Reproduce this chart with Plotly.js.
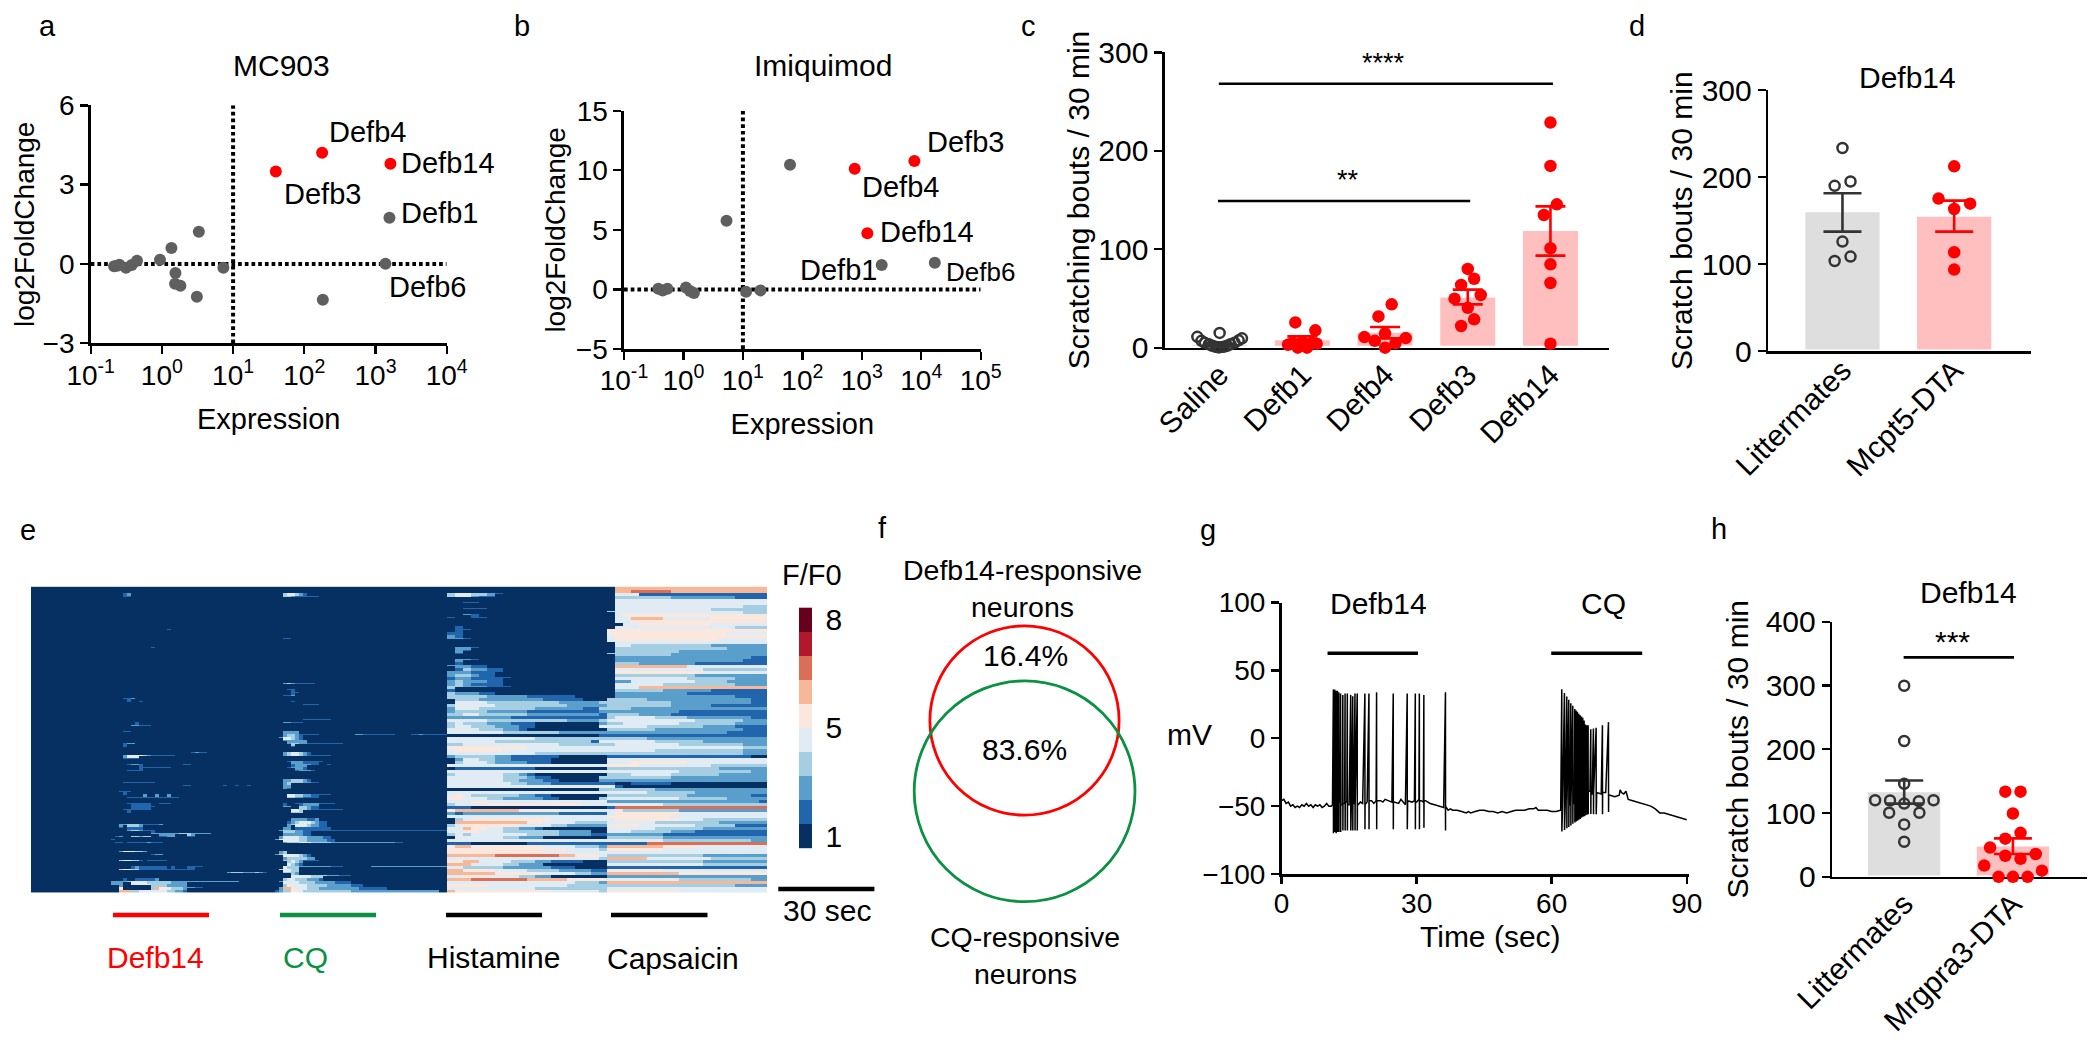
<!DOCTYPE html>
<html>
<head>
<meta charset="utf-8">
<script src="https://cdn.plot.ly/plotly-3.0.1.min.js"></script>
<style>html,body{margin:0;padding:0;background:#fff}#chart{width:2100px;height:1044px}</style>
</head>
<body>
<div id="chart"></div>
<script>
const W = 2100, H = 1044;
const FONT = '"Liberation Sans", Arial, sans-serif';
const RED = "#ff0000", GREY = "#5f5f5f", DARK = "#333333", GREEN = "#0a9142";
const PINK_BAR = "#ffbfbf", GREY_BAR = "#dedede";

// a: MC903
const mc903GreyX = [1570, 1380, 182, 3.3, 1.36, 0.94, 7.3, 1.55, 1.53, 1.82, 3.1, 0.213, 0.253, 0.313, 0.377, 0.447, 0.235];
const mc903GreyY = [1.75, 0.01, -1.35, 1.22, 0.6, 0.16, -0.14, -0.34, -0.75, -0.82, -1.24, -0.09, -0.03, -0.14, -0.04, 0.12, -0.07];
const mc903RedX = [39.8, 178, 1620];
const mc903RedY = [3.5, 4.21, 3.79];

// b: Imiquimod
const imiqGreyX = [62, 5.3, 2160, 16900, 11.3, 19.7, 0.378, 0.447, 0.537, 1.1, 1.29, 1.5];
const imiqGreyY = [10.47, 5.77, 2.05, 2.24, -0.19, -0.08, 0.06, -0.1, 0.06, 0.17, -0.13, -0.3];
const imiqRedX = [7670, 760, 1240];
const imiqRedY = [10.78, 10.13, 4.71];

const logTicks = [0.1, 1, 10, 100, 1000, 10000, 100000];
const logLabels = ["10<sup>-1</sup>", "10<sup>0</sup>", "10<sup>1</sup>", "10<sup>2</sup>", "10<sup>3</sup>", "10<sup>4</sup>", "10<sup>5</sup>"];

// c: scratching bouts
const cCategories = ["Saline", "Defb1", "Defb4", "Defb3", "Defb14"];
const cMeans = [3, 7.5, 15.2, 51, 118.5];
const cErrUp = [1, 4, 5.8, 8, 25];
const cErrDown = [1, 4, 5.7, 7, 25];
const salineOffsets = [0, -0.27, 0.27, -0.22, 0.23, -0.18, 0.18, -0.13, 0.13, -0.09, 0.09, -0.05, 0.05, 0, -0.02];
const salineValues = [15, 11, 9.5, 7, 7.5, 5, 5, 3.5, 3.5, 2, 2, 1, 1, 0.5, 0.5];
const defb1Offsets = [-0.085, 0.157, -0.173, 0.173, -0.056, 0.056, 0, -0.117, 0.113];
const defb1Values = [25.7, 17.6, 3, 4, 0, 0, 5.8, 5, 5];
const defb4Offsets = [0.08, -0.08, -0.25, 0.25, 0, -0.125, 0.125, 0];
const defb4Values = [44, 31.8, 10.8, 9.8, 14.6, 7, 4.4, 0];
const defb3Offsets = [0, 0.077, -0.08, 0.157, -0.16, 0, 0.077, -0.08];
const defb3Values = [80, 70, 63.7, 53.5, 49.8, 40.6, 28.8, 22];
const defb14Offsets = [0, 0, 0.077, -0.08, 0, 0, 0, 0];
const defb14Values = [228.6, 184.6, 145.6, 134.8, 101, 84.7, 65.7, 4];

// d: Mcpt5-DTA
const dCategories = ["Littermates", "Mcpt5-DTA"];
const dMeans = [159.6, 154.6];
const dErrUp = [21.8, 18.4];
const dErrDown = [22.2, 17.2];
const dLitterOffsets = [0, 0.072, -0.07, 0, 0.072, -0.07];
const dLitterValues = [233.4, 195, 190, 126, 108.7, 103.7];
const dMcptOffsets = [0, -0.14, 0.143, 0, 0, 0];
const dMcptValues = [212.4, 175.3, 169.5, 163.4, 113.7, 93.8];

// h: Mrgpra3-DTA
const hCategories = ["Littermates", "Mrgpra3-DTA"];
const hMeans = [132.4, 47.5];
const hErrUp = [18.6, 12.8];
const hErrDown = [17.6, 11.7];
const hLitterOffsets = [0, 0, 0, -0.267, -0.13, 0, 0.135, 0.27, -0.138, 0.14, 0, 0];
const hLitterValues = [299.6, 213, 145.8, 120, 119.6, 114.8, 118.6, 120, 100.4, 100.4, 82.2, 55];
const hMrgOffsets = [-0.07, 0.07, 0, 0.07, -0.07, -0.21, -0.07, 0.07, 0.21, -0.264, 0.267, -0.132, 0, 0.135];
const hMrgValues = [133.5, 133.5, 99.3, 68.9, 59.8, 45.9, 33, 28.3, 35.8, 17.6, 9.6, 0, 0, 0];

// e: calcium imaging heatmap, each row.
// Colour levels for F/F0, bottom to top of the colour key
const levelColors = ["#053061", "#2166ac", "#5a9fcb", "#a6cee3", "#e1ebf3", "#fae8df", "#f7b799", "#db6e56", "#b2182b", "#67001f"];
const ROWS = 102, COLS = 184;
// Defb14 window, 1 digit = 1 column, starts at column 20
const defb14Rows = {
  2: "00012", 3: "00011", 14: "000000000000001", 20: "00000000001", 37: "000112", 38: "00001001",
  45: "0000001", 46: "0000022111", 48: "00011", 52: "000122", 53: "0001",
  55: "000000000000000000001211", 56: "0002444432111111", 57: "0001111",
  59: "00001221000000000011", 60: "000000011111111", 61: "00001111", 65: "00011111111",
  66: "00000000000000000011000000001001001", 68: "00111", 69: "0001000020020020",
  70: "00001111111111111", 72: "000011111100111", 73: "00000111111", 74: "0001111111", 75: "00001",
  79: "0022333211112", 80: "00101111", 81: "00002332111", 82: "0000000000222222233322222",
  83: "012003323300112200011", 84: "1", 85: "0110111112111", 88: "0024443320", 89: "0000000000122",
  91: "00344331011111", 93: "00000121111111010001111", 94: "006443311111111111111",
  95: "000000000000000000000000000002333222321", 97: "000100111112",
  98: "22223444433333322222222222222222", 99: "2220044444333322222",
  100: "0050000000365543332221100", 101: "0066633444444433221"
};
// CQ window, 1 digit = 1 column, starts at column 60
const cqRows = {
  2: "000344321", 3: "000332111111", 17: "00011", 32: "00023211111", 34: "000011", 35: "0000011", 36: "000112",
  38: "000001", 39: "000000001111", 44: "000000001111111", 45: "00022111", 48: "0002222",
  49: "00023321111100000000022111111110000112111111", 50: "00244321", 51: "000222222", 52: "000023322111111111",
  53: "000001", 55: "0002344321", 56: "000234432111111", 58: "0000122211111", 59: "000001222211001",
  60: "000012221", 61: "00000012221", 64: "0002233321", 65: "000233332211", 66: "00022", 67: "00021",
  69: "000044332211111", 70: "000033221111", 72: "0001001122221111", 73: "000220033211",
  74: "000004433211111111", 75: "00000333", 77: "000002222112", 78: "00001234443211", 79: "00002344432211",
  80: "000220111111111", 81: "00233322111111111111111111111111111111111111", 82: "0002222211",
  83: "002444433222211", 84: "0254444332222211", 85: "000233344433333222222222222222211",
  88: "0023", 89: "0264544321", 90: "00023333322", 91: "000334321111", 92: "00004321",
  93: "000433322222222111000000022222222222222222222", 94: "0064433", 95: "0003332",
  96: "00000444443333222111", 97: "0003443332221", 98: "00244443333222221111",
  99: "00035444433333222222111", 100: "00266544433322222222221111111",
  101: "012335543333333333332222222222222222222222"
};
// Histamine window, 1 digit = 2 columns, starts at column 104
const histamineRows = {
  2: "3443321", 3: "344211", 5: "0011", 7: "00111", 9: "0021", 10: "10011", 13: "01", 14: "011", 15: "11", 16: "21", 17: "221",
  20: "0221", 21: "021", 22: "01", 24: "0221", 25: "01", 26: "22211", 27: "0132211", 28: "2221111", 29: "233211",
  30: "12211111", 31: "2322211", 32: "2321111", 33: "33222111", 34: "1", 35: "322211", 36: "3333322222111111", 37: "33332222222211111",
  38: "044443333333332222222", 39: "344444333333333222222", 40: "244433333332222221112", 41: "233332222211111111111",
  42: "334433333322222222211", 43: "222222221111111111110", 44: "444443333333333222222", 45: "343332221110000000000",
  46: "344333222110000000000", 47: "444433322100000000000", 48: "444444433333332222222", 49: "000000000000000000000",
  50: "444444444443333333333", 51: "444444333333333333111", 52: "334444444444443333330", 53: "555555555544444444444",
  54: "455555544444444444444", 55: "444444444443333333333", 56: "233333221111110000000", 57: "024433221111100000000",
  58: "034443222211100000000", 59: "444444444444444444440", 60: "011111111110000000000", 61: "444444444444444444444",
  62: "344444433210000000000", 63: "444444433321100000000", 64: "444444433222110000000", 65: "444444443322211111111",
  66: "444444444444444444444", 67: "000000000000000000000", 68: "444444444444444444440", 69: "454333333221100000000",
  70: "554443322222110000000", 71: "444554444444444444444", 72: "344445555555555554444", 73: "111000000000000000000",
  74: "566666666555554444444", 75: "212222222222221111110", 76: "444444444444444444444", 77: "034555555555544444441",
  78: "066666666655444433333", 79: "345555555444433222222", 80: "446554433221000000000", 81: "445544433333332222000",
  82: "343444444433332222111", 83: "044444433222000000000", 84: "444444444444444444444", 85: "111000000011111111110",
  86: "566555555555444433322", 87: "555555555555555444433", 88: "555555555555444444444", 89: "666666777777776655544",
  90: "444444444444444444433", 91: "556644443332211110000", 92: "666444433222000000000", 93: "443333322222211100000",
  94: "665555444433332222111", 95: "666666555555444433222", 96: "445554444332200000000", 97: "666777777766666555554",
  98: "444444444444444433322", 99: "555554444444444333333", 100: "444444444443333333333", 101: "655555555555544444433"
};
// Capsaicin window, 1 digit = 2 columns, starts at column 140
const capsaicinRows = [
  "0006666666666666666666", "0006677777666666666666", "0004441111111111111111", "0003333333222222221111",
  "0004444444444444444444", "0004444444444444444444", "0004444444444444444333", "0004444444444443333333",
  "0034444444444444444333", "0004555555555555555555", "0004466664444445555555", "0004455555555555555555",
  "0000445555555554444444", "0004444444444444443333", "0055555555555555555555", "0055555555555555544444",
  "0045555555555555555555", "0045555555555555444444", "0044444444444444444444", "0004433333333332222222",
  "0003333333333333322222", "0003333333322222222222", "0033333333222222222222", "0002222222222222222211",
  "0002222222222222222111", "0003332222222111111111", "0006666666664444444444", "0004444444444433333333",
  "0005555555555544444444", "0003333333333222222222", "0004444444443333332222", "0002244444444333322222",
  "0004444443333333332222", "0004446666666666666666", "0003333332222221111111", "0002222222221111111111",
  "0002222222222222221111", "0033333222222222222211", "0333333333222222222211", "0033333333222221111111",
  "0333322222222222222222", "0222222222211111111111", "0033332222111111111111", "0034444433332222222211",
  "0344444444444333333222", "0233444444433333332222", "0444444333333322221111", "0033333322222222222111",
  "0022222222222222211111", "0111111111111111111111", "0333333222222222222222", "0444444433333322222222",
  "0334444444433333333222", "0444444444444444444333", "0044444433333333333222", "0033333333333333333222",
  "0011111111111111111100", "0044444444444444444444", "0044455555554444444444", "0055554444444443333333",
  "0033333333333333222222", "0044444444433333333322", "0033344444333333222222", "0333333333222222222222",
  "0222222222222222222222", "0000011111000000000000", "0001000000000000000000", "0333333322222222222222",
  "0044444333333222222222", "0033333333332222222211", "0344444444433333322222", "0022222222222222222221",
  "0044444443333333333333", "0017777777777777777777", "0044333333322222222222", "0045555555544444444444",
  "0055555555444444444444", "0045555555544433333333", "0044444433333333222222", "0055554444444333331111",
  "0044444433333322222222", "0044433333222111111111", "0022222221111111111111", "0033333332222222222222",
  "0044444443333333333322", "0011111777777777777777", "0066666665555444444444", "0055555554444444444444",
  "0044444444444444444444", "0033333333333322222222", "0066666444444443333333", "0033333333333322222222",
  "0044444444444433333333", "0011111111111111111111", "0055555554444444444444", "0066666666655555555555",
  "0022222222222222222222", "0044444444433333333322", "0066666666666666666666", "0033333333333333332222",
  "0044444444444444444444", "0055555555544444444444"
];
const keyLevels = [0, 1, 2, 3, 4, 5, 6, 7, 8, 9];
const keyTickVals = [0, 4.5, 9];
const keyTickText = ["1", "5", "8"];

// g: membrane potential trace, baseline points then the spikes on top
const traceTime = [0, 0.5, 1, 1.5, 2, 2.5, 3, 3.5, 4, 4.5, 5, 5.5, 6, 6.5, 7, 7.5, 8, 8.5, 9, 9.5, 10, 10.5, 11, 11.3,
  12, 12.5, 13, 13.5, 14, 14.5, 15, 15.5, 16, 17, 17.5, 18, 18.5, 19, 20, 20.5, 21, 22, 22.5, 23, 24, 24.5, 25, 26, 26.5, 27, 27.5, 28, 29, 29.5, 30, 30.5, 31, 31.5, 32, 33, 34, 35, 36, 36.4,
  37, 37.5, 38, 39, 40, 41, 41.5, 42, 43, 44, 45, 46, 47, 48, 49, 50, 51, 52, 53, 54, 55, 56, 56.5, 57, 58, 59, 60, 61, 62,
  62.4, 63, 64, 65, 66, 67, 68, 68.5, 69, 70, 71, 72, 73, 74, 75, 75.2, 75.5, 76, 76.5, 77, 78, 79, 80, 81, 82, 83, 84, 85, 86, 87, 88, 89, 90];
const traceMv = [-46, -45, -48, -47, -50, -49, -51, -50, -51, -49, -50, -48, -50, -49, -51, -49, -50, -49, -51, -50, -48, -50, -50, -49,
  -48, -49, -47, -49, -48, -47, -49, -48, -48, -49, -47, -48, -49, -47, -46, -48, -46, -46, -47, -45, -46, -47, -47, -48, -45, -47, -49, -46, -47, -46, -47, -45, -46, -47, -46, -48, -49, -50, -51, -50,
  -53, -52, -53, -53, -54, -55, -54, -55, -54, -53, -53, -54, -54, -55, -54, -55, -54, -53, -53, -53, -52, -52, -51, -53, -53, -53, -54, -54, -53,
  -51, -50, -49, -48, -46, -44, -41, -39, -41, -40, -41, -40, -42, -43, -42, -38, -40, -41, -39, -45, -46, -47, -48, -49, -50, -52, -55, -55, -56, -57, -58, -59, -60];
const spikeTime = [11.5, 11.8, 12.1, 12.4, 12.7, 13.1, 13.6, 14.1, 14.6, 15.35, 15.8, 16.3, 16.8, 18.5, 19.4, 21.1, 24.8, 27.9, 29.7, 30.6, 31.6, 36.4,
  62.24, 62.83, 63.35, 63.79, 64.24, 64.68, 65.13, 65.42, 65.72, 66.02, 66.31, 66.61, 66.9, 67.2, 67.5, 67.79, 68.09, 68.68, 69.27, 69.87, 71.27, 72.61];
const spikePeak = [36, 36, 35, 35, 34, 33, 32, 33, 33, 32, 31, 33, 33, 33, 33, 34, 33, 33, 33, 33, 32, 34,
  36.2, 33.3, 30.8, 28.4, 25.9, 23.9, 21.5, 20.5, 19.5, 18, 17, 16.1, 15.1, 13.1, 10.2, 9.7, 9.7, 6.7, 7.2, 7.7, 9.7, 11.9];
const spikeTrough = [-70, -69, -70, -69, -69, -69, -68, -68, -68, -68, -68, -68, -68, -67, -67, -67, -67, -67, -67, -67, -66, -68,
  -68.7, -67.5, -66.2, -65.3, -64.3, -63, -62.1, -61.3, -60.8, -60.1, -59.4, -58.6, -57.9, -57.4, -56.9, -56.4, -55.9, -55.7, -55.9, -55.9, -55.9, -54.4];

// pixel position in the page -> paper fraction
const px = (x) => x / W;
const py = (y) => 1 - y / H;
const domX = (l, r) => [px(l), px(r)];
const domY = (t, b) => [py(b), py(t)];

function decodeHeatmap() {
  const z = [];
  for (let r = 0; r < ROWS; r++) z.push(new Array(COLS).fill(0));
  const paint = (r, text, start, step) => {
    if (!text) return;
    for (let k = 0; k < text.length; k++) {
      const level = +text[k];
      if (level === 0) continue;
      for (let s = 0; s < step; s++) {
        const c = start + k * step + s;
        if (c < COLS) z[r][c] = level;
      }
    }
  };
  for (let r = 0; r < ROWS; r++) {
    paint(r, defb14Rows[r], 20, 1);
    paint(r, cqRows[r], 60, 1);
    paint(r, histamineRows[r], 104, 2);
    paint(r, capsaicinRows[r], 140, 2);
  }
  // two sub-rows per row: lone streaks in the sparse part stay thin, like the original
  const fine = [];
  for (let r = 0; r < ROWS; r++) {
    fine.push(z[r]);
    const next = z[r + 1] || z[r];
    fine.push(z[r].map((v, c) => {
      const sparse = c < 104 || (r < 38 && c < 146);
      return sparse && next[c] === 0 ? 0 : v;
    }));
  }
  return fine;
}

function mergeTrace() {
  const x = [], y = [];
  let s = 0;
  for (let i = 0; i < traceTime.length; i++) {
    while (s < spikeTime.length && spikeTime[s] <= traceTime[i]) {
      const base = traceMv[i];
      x.push(spikeTime[s], spikeTime[s] + 0.02, spikeTime[s] + 0.04);
      y.push(spikePeak[s], spikeTrough[s], base);
      s++;
    }
    x.push(traceTime[i]);
    y.push(traceMv[i]);
  }
  return { x, y };
}

const discreteScale = [];
levelColors.forEach((c, i) => {
  discreteScale.push([i / 10, c], [(i + 1) / 10, c]);
});

const traces = [];

function dots(xa, ya, xs, ys, color) {
  traces.push({
    type: "scatter", mode: "markers", xaxis: xa, yaxis: ya, x: xs, y: ys, cliponaxis: false,
    marker: { size: 12, color: color },
  });
}
function swarm(xa, ya, center, offsets, values, hollow) {
  traces.push({
    type: "scatter", mode: "markers", xaxis: xa, yaxis: ya,
    x: offsets.map((o) => center + o), y: values, cliponaxis: false,
    marker: hollow
      ? { size: 10, color: "rgba(0,0,0,0)", line: { color: DARK, width: 2.5 } }
      : { size: 12.5, color: RED },
  });
}
function barSet(xa, ya, means, colors) {
  const gap = 2;
  traces.push({
    type: "bar", xaxis: xa, yaxis: ya, x: means.map((m, i) => i), y: means.map((m) => m - gap), base: gap,
    width: 0.665, marker: { color: colors, line: { width: 0 } },
  });
}
function errBar(xa, ya, center, mean, up, down, color, capWidth) {
  traces.push({
    type: "scatter", mode: "markers", xaxis: xa, yaxis: ya, x: [center], y: [mean], cliponaxis: false,
    marker: { size: 1, color: color, opacity: 0 },
    error_y: { type: "data", symmetric: false, array: [up], arrayminus: [down], color: color, thickness: 2.6, width: capWidth },
  });
}
function line(xa, ya, xs, ys, color, width, dash) {
  traces.push({
    type: "scatter", mode: "lines", xaxis: xa, yaxis: ya, x: xs, y: ys, cliponaxis: false,
    line: { color: color, width: width, dash: dash || "solid" },
  });
}

// a
line("x", "y", [0.1, 10000], [0, 0], "#000", 4, "3.7px,3px");
line("x", "y", [10, 10], [-3, 6], "#000", 4, "3.7px,3px");
dots("x", "y", mc903GreyX, mc903GreyY, GREY);
dots("x", "y", mc903RedX, mc903RedY, RED);

// b
line("x2", "y2", [0.1, 100000], [0, 0], "#000", 4, "3.7px,3px");
line("x2", "y2", [10, 10], [-5, 15], "#000", 4, "3.7px,3px");
dots("x2", "y2", imiqGreyX, imiqGreyY, GREY);
dots("x2", "y2", imiqRedX, imiqRedY, RED);

// c
barSet("x3", "y3", cMeans, [GREY_BAR, PINK_BAR, PINK_BAR, PINK_BAR, PINK_BAR]);
swarm("x3", "y3", 0, salineOffsets, salineValues, true);
swarm("x3", "y3", 1, defb1Offsets, defb1Values);
swarm("x3", "y3", 2, defb4Offsets, defb4Values);
swarm("x3", "y3", 3, defb3Offsets, defb3Values);
swarm("x3", "y3", 4, defb14Offsets, defb14Values);
cMeans.forEach((m, i) => errBar("x3", "y3", i, m, cErrUp[i], cErrDown[i], i === 0 ? DARK : RED, 15));
line("x3", "y3", [-0.01, 4.03], [268, 268], "#000", 2.6);
line("x3", "y3", [-0.02, 3.03], [149, 149], "#000", 2.6);

// d
barSet("x4", "y4", dMeans, [GREY_BAR, PINK_BAR]);
swarm("x4", "y4", 0, dLitterOffsets, dLitterValues, true);
swarm("x4", "y4", 1, dMcptOffsets, dMcptValues);
errBar("x4", "y4", 0, dMeans[0], dErrUp[0], dErrDown[0], DARK, 19);
errBar("x4", "y4", 1, dMeans[1], dErrUp[1], dErrDown[1], RED, 19);

// e
traces.push({
  type: "heatmap", xaxis: "x5", yaxis: "y5", z: decodeHeatmap(), colorscale: discreteScale,
  zmin: -0.5, zmax: 9.5, showscale: false, zsmooth: false, hoverinfo: "skip",
});
traces.push({
  type: "heatmap", xaxis: "x6", yaxis: "y6", z: keyLevels.map((l) => [l]), y: keyLevels, colorscale: discreteScale,
  zmin: -0.5, zmax: 9.5, showscale: false, zsmooth: false, hoverinfo: "skip",
});

// g
const merged = mergeTrace();
line("x7", "y7", merged.x, merged.y, "#000", 1.5);
line("x7", "y7", [10.2, 30.3], [62.7, 62.7], "#000", 3.6);
line("x7", "y7", [59.9, 80.1], [62.7, 62.7], "#000", 3.6);

// h
barSet("x8", "y8", hMeans, [GREY_BAR, PINK_BAR]);
swarm("x8", "y8", 0, hLitterOffsets, hLitterValues, true);
swarm("x8", "y8", 1, hMrgOffsets, hMrgValues);
errBar("x8", "y8", 0, hMeans[0], hErrUp[0], hErrDown[0], DARK, 19);
errBar("x8", "y8", 1, hMeans[1], hErrUp[1], hErrDown[1], RED, 19);
line("x8", "y8", [-0.005, 1.01], [344, 344], "#000", 2.6);

function axisBase(size) {
  return {
    showgrid: false, zeroline: false, showline: true, linecolor: "#000", linewidth: 2.6,
    ticks: "outside", ticklen: 8, tickwidth: 2.4, tickcolor: "#000",
    tickfont: { family: FONT, size: size, color: "#000" }, fixedrange: true, layer: "below traces",
  };
}
function logAxis(l, r, yId, maxExp, titleText) {
  return Object.assign(axisBase(28), {
    domain: domX(l, r), anchor: yId, type: "log", range: [-1, maxExp], ticklabelstandoff: -3,
    tickmode: "array", tickvals: logTicks.slice(0, maxExp + 2), ticktext: logLabels.slice(0, maxExp + 2),
    title: { text: titleText, font: { family: FONT, size: 29, color: "#000" }, standoff: 19 },
  });
}
function valueAxis(t, b, xId, range, dtick, size, titleText, standoff) {
  return Object.assign(axisBase(size), {
    domain: domY(t, b), anchor: xId, range: range, dtick: dtick, tick0: range[0],
    title: { text: titleText, font: { family: FONT, size: titleText === "log2FoldChange" ? 28 : 30, color: "#000" }, standoff: standoff },
  });
}
function catAxis(l, r, yId, range, tickvals, ticktext, labelShift) {
  return Object.assign(axisBase(30), {
    domain: domX(l, r), anchor: yId, range: range, tickmode: "array", tickvals: tickvals, ticktext: ticktext,
    tickangle: -45, ticks: "", ticklabelstandoff: labelShift,
  });
}

const hidden = { visible: false, fixedrange: true };

const layout = {
  width: W, height: H, margin: { l: 0, r: 0, t: 0, b: 0 }, showlegend: false,
  paper_bgcolor: "#fff", plot_bgcolor: "rgba(0,0,0,0)", font: { family: FONT, color: "#000", size: 28 },
  barmode: "overlay",
  xaxis: logAxis(90.7, 446.7, "y", 4, "Expression"),
  yaxis: valueAxis(105.3, 343.3, "x", [-3, 6], 3, 28, "log2FoldChange", 0),
  xaxis2: logAxis(624, 980.7, "y2", 5, "Expression"),
  yaxis2: valueAxis(110.7, 349, "x2", [-5, 15], 5, 28, "log2FoldChange", 2),
  xaxis3: catAxis(1165, 1608.6, "y3", [-0.661, 4.703], [0, 1, 2, 3, 4], cCategories, -5),
  yaxis3: valueAxis(52.3, 347.7, "x3", [0, 300], 100, 30, "Scratching bouts / 30 min", 0),
  xaxis4: catAxis(1768.3, 2030.7, "y4", [-0.664, 1.685], [0, 1], dCategories, -13),
  yaxis4: valueAxis(90, 351.3, "x4", [0, 300], 100, 30, "Scratch bouts / 30 min", 0),
  xaxis5: Object.assign({ domain: domX(31, 767), anchor: "y5", range: [-0.5, COLS - 0.5] }, hidden),
  yaxis5: Object.assign({ domain: domY(586.6, 892.8), anchor: "x5", range: [2 * ROWS - 0.5, -0.5] }, hidden),
  xaxis6: Object.assign({ domain: domX(799, 812.4), anchor: "y6", range: [-0.5, 0.5] }, hidden),
  yaxis6: {
    domain: domY(607.4, 848.5), anchor: "x6", side: "right", range: [-0.5, 9.5], showgrid: false, zeroline: false,
    tickmode: "array", tickvals: keyTickVals, ticktext: keyTickText, ticks: "", ticklabelstandoff: 12,
    tickfont: { family: FONT, size: 30, color: "#000" }, fixedrange: true,
  },
  xaxis7: Object.assign(axisBase(28), {
    domain: domX(1281.6, 1689), anchor: "y7", range: [0, 90.5], tickmode: "array", tickvals: [0, 30, 60, 90], ticklen: 7,
    ticklabelstandoff: -4,
  }),
  yaxis7: Object.assign(axisBase(28), { domain: domY(602.6, 874), anchor: "x7", range: [-100, 100], dtick: 50, tick0: -100 }),
  xaxis8: catAxis(1832.3, 2087.3, "y8", [-0.661, 1.684], [0, 1], hCategories, -5),
  yaxis8: valueAxis(621.7, 876.8, "x8", [0, 400], 100, 30, "Scratch bouts / 30 min", 8),
  shapes: [],
  annotations: [],
};

function label(x, y, text, size, color, angle) {
  layout.annotations.push({
    xref: "paper", yref: "paper", x: px(x), y: py(y), text: text, showarrow: false,
    xanchor: "center", yanchor: "middle", textangle: angle || 0,
    font: { family: FONT, size: size, color: color || "#000" },
  });
}
function paperBar(x0, x1, y, color, width) {
  layout.shapes.push({
    type: "line", xref: "paper", yref: "paper", x0: px(x0), x1: px(x1), y0: py(y), y1: py(y),
    line: { color: color, width: width },
  });
}
function paperCircle(cx, cy, r, color) {
  layout.shapes.push({
    type: "circle", xref: "paper", yref: "paper", x0: px(cx - r), x1: px(cx + r), y0: py(cy + r), y1: py(cy - r),
    line: { color: color, width: 2.8 },
  });
}

// panel letters
[["a", 47, 26], ["b", 522, 26], ["c", 1028, 26], ["d", 1637, 26], ["e", 28, 530], ["f", 882, 528], ["g", 1208, 530], ["h", 1719, 529]]
  .forEach((l) => label(l[1], l[2], l[0], 29));

// a, b labels
label(281, 66, "MC903", 30);
[["Defb4", 367, 132], ["Defb14", 448, 163], ["Defb3", 322, 194], ["Defb1", 439, 213], ["Defb6", 427, 287]]
  .forEach((l) => label(l[1], l[2], l[0], 29));
label(823, 66, "Imiquimod", 30);
[["Defb3", 965, 142], ["Defb4", 900, 187], ["Defb14", 927, 232], ["Defb1", 838, 270]]
  .forEach((l) => label(l[1], l[2], l[0], 29));
label(980, 272, "Defb6", 26);

// c, d, h labels
label(1383, 63, "****", 27);
label(1348, 180, "**", 27);
label(1907, 78, "Defb14", 30);
label(1968, 592, "Defb14", 30);
label(1952, 641, "***", 30);

// e labels and stimulus bars
paperBar(113, 209, 915, RED, 4.5);
paperBar(280, 376, 915, GREEN, 4.5);
paperBar(446, 542, 915, "#000", 4.5);
paperBar(611, 707.5, 915, "#000", 4.5);
label(155, 957, "Defb14", 30, RED);
label(305, 957, "CQ", 30, GREEN);
label(493.5, 957, "Histamine", 30);
label(673, 958, "Capsaicin", 30);
label(812, 575, "F/F0", 29);
paperBar(778.3, 874.4, 889, "#000", 4.5);
label(826.5, 910, "30 sec", 30);

// f
paperCircle(1024.5, 720.5, 94.6, RED);
paperCircle(1024.6, 791.3, 110.4, GREEN);
label(1022.5, 570, "Defb14-responsive", 28.5);
label(1022.5, 607, "neurons", 28.5);
label(1025, 655.5, "16.4%", 30);
label(1024, 749.5, "83.6%", 30);
label(1025, 937, "CQ-responsive", 28.5);
label(1025, 973.5, "neurons", 28.5);

// g labels
label(1189, 735, "mV", 30);
label(1378, 603, "Defb14", 30);
label(1603, 603, "CQ", 30);
label(1490, 936, "Time (sec)", 30);

Plotly.newPlot("chart", traces, layout, { staticPlot: true, displayModeBar: false });
</script>
</body>
</html>
